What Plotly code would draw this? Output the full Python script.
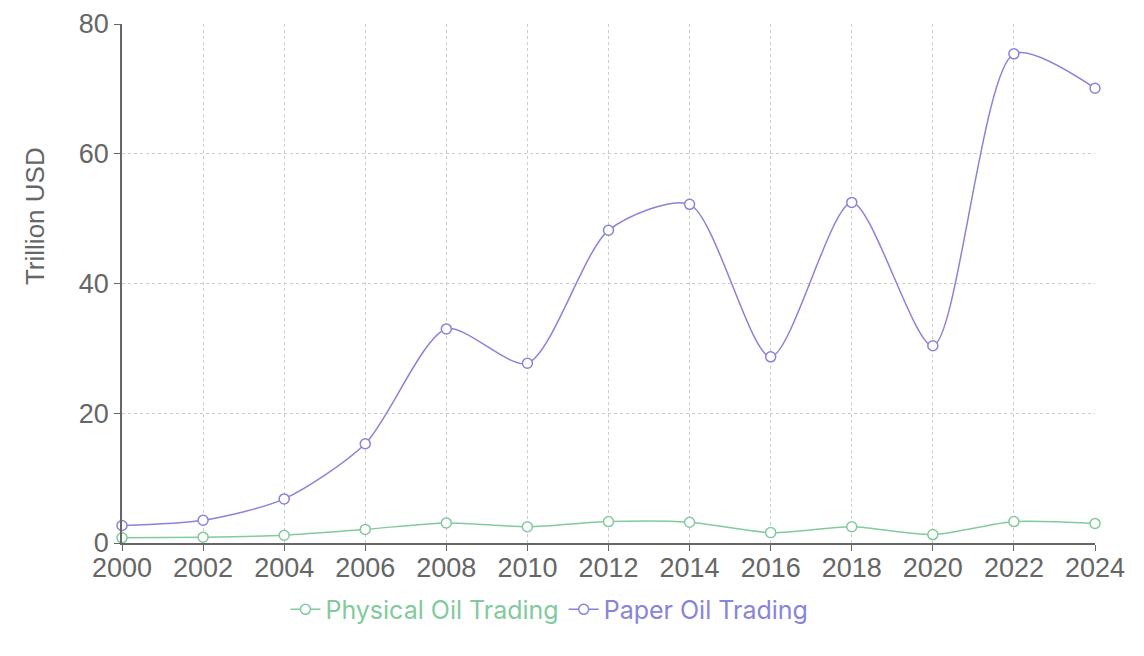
import plotly.graph_objects as go

# years on the x axis
years = [2000, 2002, 2004, 2006, 2008, 2010, 2012, 2014, 2016, 2018, 2020, 2022, 2024]

# trillion USD
physical_oil = [0.8, 0.9, 1.2, 2.1, 3.1, 2.5, 3.3, 3.2, 1.6, 2.5, 1.3, 3.3, 3.0]
paper_oil = [2.7, 3.5, 6.8, 15.3, 33.0, 27.7, 48.2, 52.2, 28.7, 52.5, 30.4, 75.4, 70.1]

y_ticks = [0, 20, 40, 60, 80]
x_ticks = years

GREEN = '#82ca9d'
PURPLE = '#8884d8'

fig = go.Figure()

for name, vals, color in [('Physical Oil Trading', physical_oil, GREEN),
                          ('Paper Oil Trading', paper_oil, PURPLE)]:
    fig.add_trace(go.Scatter(
        x=years, y=vals,
        # legend text takes the series colour
        name=f"<span style='color:{color}'>{name}</span>",
        mode='lines+markers',
        line=dict(color=color, width=1.5, shape='spline', smoothing=0.75),
        marker=dict(size=10, color='white', line=dict(color=color, width=1.5)),
        cliponaxis=False,
    ))

axis_style = dict(
    showline=True, linecolor='#666', linewidth=1.5,
    ticks='outside', ticklen=6, tickcolor='#666',
    showgrid=True, gridcolor='#ccc', griddash='3px,3px', gridwidth=1,
    zeroline=False, automargin=False,
    tickfont=dict(family='Liberation Sans, Arial', size=27, color='#666'),
)

fig.update_xaxes(range=[2000, 2024], tickvals=x_ticks, ticklabelstandoff=-6, **axis_style)
fig.update_yaxes(range=[0, 80], tickvals=y_ticks, **axis_style)

# y title sits above the middle of the axis, so draw it as an annotation
fig.add_annotation(text='Trillion USD', textangle=-90,
                   xref='paper', yref='paper', x=-0.0894, y=0.63,
                   xanchor='center', yanchor='middle',
                   showarrow=False,
                   font=dict(family='Liberation Sans, Arial', size=26, color='#666'))

# page body has an 8px margin, so the figure is 16px smaller than the window
fig.update_layout(
    width=1128, height=640,
    margin=dict(l=114, r=41, t=16, b=105),
    plot_bgcolor='white', paper_bgcolor='white',
    showlegend=True,
    legend=dict(orientation='h', xref='container', yref='container',
                x=0.48, y=0.06, xanchor='center', yanchor='middle',
                font=dict(family='Inter, Roboto', size=25),
                itemwidth=30),
)

fig.write_html("out.html")
